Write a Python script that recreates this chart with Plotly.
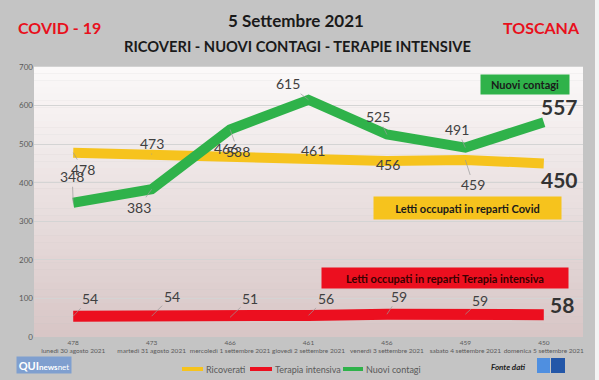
import plotly.graph_objects as go

# ---- data ----
dates = ["lunedì 30 agosto 2021", "martedì 31 agosto 2021", "mercoledì 1 settembre 2021",
         "giovedì 2 settembre 2021", "venerdì 3 settembre 2021", "sabato 4 settembre 2021",
         "domenica 5 settembre 2021"]
ricoverati = [478, 473, 466, 461, 456, 459, 450]
terapia = [54, 54, 51, 56, 59, 59, 58]
contagi = [348, 383, 538, 615, 525, 491, 557]
tick_labels = [f"{r}<br>{d}" for r, d in zip(ricoverati, dates)]
y_ticks = [0, 100, 200, 300, 400, 500, 600, 700]
series_names = ["Ricoverati", "Terapia intensiva", "Nuovi contagi"]

# label offsets (pixels) for data labels
off_contagi = [(-1, -26), (-13, 18), (8, 22), (-21, -16), (-9, -18), (-8, -18), (16, -16)]
off_ricov = [(10, 17), (0, -11), (-4, -9), (4, -9), (1, 3), (8, 25), (16, 16)]
off_terapia = [(17, -18), (20, -20), (20, -19), (17, -17), (12, -18), (15, -14), (18, -10)]

W, H = 599, 380
L, R, T, B = 34, 583, 67, 337
FONT = "Lato"

def px(x, y):
    return (x - L) / (R - L), (B - y) / (B - T)

YEL, RED, GRN = "#f6c31d", "#ec0f1f", "#2fb24a"
colors = [YEL, RED, GRN]

fig = go.Figure()
for nm, vals, col, w in zip(series_names, [ricoverati, terapia, contagi], colors, [10, 11, 10]):
    fig.add_trace(go.Scatter(x=dates, y=vals, mode="lines", name=nm,
                             line=dict(color=col, width=w), showlegend=False))

shapes = []
# gradient background of plot area
N = 40
top = (252, 250, 250)
bot = (216, 198, 198)
for i in range(N):
    t = (i + 0.5) / N
    c = tuple(int(top[k] + (bot[k] - top[k]) * t) for k in range(3))
    shapes.append(dict(type="rect", xref="paper", yref="paper", x0=0, x1=1,
                       y0=1 - (i + 1) / N, y1=1 - i / N + 0.001, line=dict(width=0),
                       fillcolor=f"rgb{c}", layer="below"))
# right white strip
x0, _ = px(595, 0)
x1, _ = px(599, 0)
_, y0 = px(0, 380)
_, y1 = px(0, 0)
shapes.append(dict(type="rect", xref="paper", yref="paper", x0=x0, x1=x1 + 0.01, y0=y0, y1=y1,
                   line=dict(width=0), fillcolor="#f4f4f4", layer="below"))
# data source logo
for a, b, col in [(537, 550, "#4f8fe0"), (551, 565, "#2357a8")]:
    xa, ya = px(a, 373)
    xb, yb = px(b, 358)
    shapes.append(dict(type="rect", xref="paper", yref="paper", x0=xa, x1=xb, y0=ya, y1=yb,
                       line=dict(width=0), fillcolor=col, layer="above"))

ann = []

def add_labels(vals, offs):
    for d, v, (ox, oy), i in zip(dates, vals, offs, range(len(vals))):
        last = i == len(vals) - 1
        ann.append(dict(x=d, y=v, xref="x", yref="y", text=f"<b>{v}</b>" if last else str(v),
                        showarrow=True, ax=ox, ay=oy, arrowhead=0, arrowwidth=0.7,
                        arrowcolor="#9a9a9a" if not last else "rgba(0,0,0,0)",
                        font=dict(family=FONT, size=21 if last else 14,
                                  color="#333333" if last else "#404040")))

add_labels(contagi, off_contagi)
add_labels(ricoverati, off_ricov)
add_labels(terapia, off_terapia)

def text_at(x, y, text, size, color, bg=None, width=None, height=None, family=FONT,
            xanchor="center"):
    xp, yp = px(x, y)
    d = dict(x=xp, y=yp, xref="paper", yref="paper", text=text, showarrow=False,
             xanchor=xanchor, yanchor="middle",
             font=dict(family=family, size=size, color=color))
    if bg:
        d["bgcolor"] = bg
    if width:
        d["width"] = width
    if height:
        d["height"] = height
    ann.append(d)

text_at(296, 20, "<b>5 Settembre 2021</b>", 17, "#1a1a1a")
text_at(297, 46, "<b>RICOVERI - NUOVI CONTAGI - TERAPIE INTENSIVE</b>", 14.7, "#1a1a1a")
text_at(59, 27, "<b>COVID - 19</b>", 16, "#e8101c")
text_at(541, 27, "<b>TOSCANA</b>", 16, "#e8101c")
text_at(525, 84, "<b>Nuovi contagi</b>", 11, "#1a1a1a", bg=GRN, width=86, height=17)
text_at(467, 208, "<b>Letti occupati in reparti Covid</b>", 11, "#1a1a1a", bg=YEL, width=185, height=20)
text_at(445, 278, "<b>Letti occupati in reparti Terapia intensiva</b>", 11, "#3a0000", bg=RED, width=244, height=18)
text_at(44, 365, "<b>QUI</b><span style='font-size:8px'><b>news</b>net</span>", 11, "#ffffff",
        bg="#7f9fcf", width=52, height=14)
text_at(508, 367, "<b><i>Fonte dati</i></b>", 8, "#222222")

# custom legend (compact, as in the reference)
for nm, col, (a, b) in zip(series_names, colors, [(182, 203), (250, 272), (343, 363)]):
    xa, ya = px(a, 369)
    xb, _ = px(b, 369)
    shapes.append(dict(type="line", xref="paper", yref="paper", x0=xa, x1=xb, y0=ya, y1=ya,
                       line=dict(color=col, width=4), layer="above"))
    text_at(b + 1, 369, nm, 9, "#5a5a5a", xanchor="left")

fig.update_layout(
    width=W, height=H,
    margin=dict(l=L, r=W - R, t=T, b=H - B, autoexpand=False),
    paper_bgcolor="#c4c4c4",
    plot_bgcolor="rgba(0,0,0,0)",
    shapes=shapes,
    annotations=ann,
    showlegend=False,
    xaxis=dict(type="category", tickmode="array", tickvals=dates, ticktext=tick_labels,
               tickangle=0,
               tickfont=dict(family=FONT, size=6.5, color="#5a5a5a"), showgrid=False,
               showline=False, ticks="", range=[-0.5, 6.5], fixedrange=True),
    yaxis=dict(range=[0, 700], tickvals=y_ticks, showgrid=True, gridcolor="#d4d4d4",
               gridwidth=1, zeroline=False, showline=False, ticks="",
               tickfont=dict(family=FONT, size=8, color="#5a5a5a"), fixedrange=True),
    font=dict(family=FONT),
)

fig.write_html("out.html", config={"displayModeBar": False},
               post_script="document.body.style.margin='0';document.body.style.overflow='hidden';")
